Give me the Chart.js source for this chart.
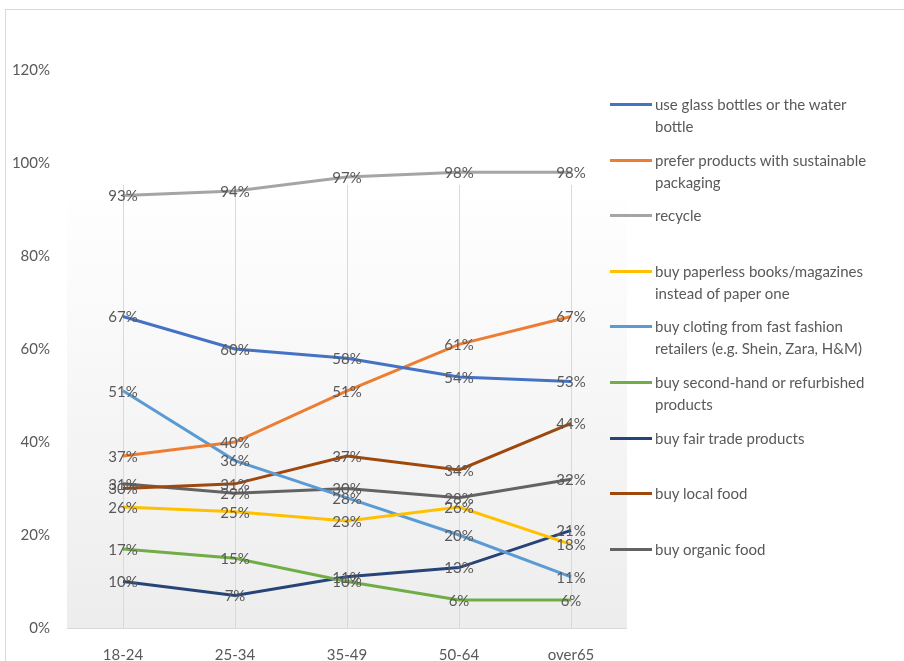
<!DOCTYPE html>
<html>
<head>
<meta charset="utf-8">
<script src="https://cdn.jsdelivr.net/npm/chart.js@4.4.1/dist/chart.umd.min.js"></script>
<style>
  body { margin: 0; background: #fff; font-family: Lato, "Noto Sans", sans-serif; }
  #wrap { position: relative; width: 904px; height: 661px; overflow: hidden; }
  #frame { position: absolute; left: 5px; top: 9px; right: -2px; bottom: -2px; border-left: 1px solid #d9d9d9; border-top: 1px solid #d9d9d9; }
  #myChart { position: absolute; left: 0; top: 0; }
  #legend { position: absolute; left: 610px; top: 93px; width: 290px; }
  .item { position: relative; height: 55.6px; }
  .item .swatch { position: absolute; left: 0; top: 10px; width: 42px; height: 3px; }
  .item .txt { position: absolute; left: 45px; top: 0; font-size: 15px; line-height: 22px; color: #595959; white-space: nowrap; }
</style>
</head>
<body>
<div id="wrap">
  <div id="frame"></div>
  <canvas id="myChart" width="904" height="661"></canvas>
  <div id="legend"></div>
</div>
<script>
// age groups
var ageGroups = ['18-24', '25-34', '35-49', '50-64', 'over65'];
var yTicks = [0, 20, 40, 60, 80, 100, 120];

// series (percent)
var glassBottles = [67, 60, 58, 54, 53];
var sustainablePack = [37, 40, 51, 61, 67];
var recycle = [93, 94, 97, 98, 98];
var paperless = [26, 25, 23, 26, 18];
var fastFashion = [51, 36, 28, 20, 11];
var secondHand = [17, 15, 10, 6, 6];
var fairTrade = [10, 7, 11, 13, 21];
var localFood = [30, 31, 37, 34, 44];
var organicFood = [31, 29, 30, 28, 32];

var seriesNames = [
  ['use glass bottles or the water', 'bottle'],
  ['prefer products with sustainable', 'packaging'],
  ['recycle'],
  ['buy paperless books/magazines', 'instead of paper one'],
  ['buy cloting from fast fashion', 'retailers (e.g. Shein, Zara, H&M)'],
  ['buy second-hand or refurbished', 'products'],
  ['buy fair trade products'],
  ['buy local food'],
  ['buy organic food']
];
var seriesData = [glassBottles, sustainablePack, recycle, paperless, fastFashion, secondHand, fairTrade, localFood, organicFood];
var seriesColors = ['#4472C4', '#ED7D31', '#A5A5A5', '#FFC000', '#5B9BD5', '#70AD47', '#264478', '#9E480E', '#636363'];

var datasets = [];
for (var i = 0; i < seriesData.length; i++) {
  datasets.push({
    label: seriesNames[i].join(' '),
    data: seriesData[i],
    borderColor: seriesColors[i],
    backgroundColor: seriesColors[i],
    borderWidth: 3,
    pointRadius: 0,
    tension: 0
  });
}

// plot background, gridlines and baseline
var plotBack = {
  id: 'plotBack',
  beforeDatasetsDraw: function(chart) {
    var c = chart.ctx, a = chart.chartArea;
    var xs = chart.scales.x, ys = chart.scales.y;
    var top = ys.getPixelForValue(95.3);
    var g = c.createLinearGradient(0, top, 0, a.bottom);
    g.addColorStop(0, '#ffffff');
    g.addColorStop(1, '#ededed');
    c.save();
    c.fillStyle = g;
    c.fillRect(a.left, top, a.right - a.left, a.bottom - top);
    c.strokeStyle = '#d9d9d9';
    c.lineWidth = 1;
    for (var k = 0; k < ageGroups.length; k++) {
      var x = Math.round(xs.getPixelForValue(k)) + 0.5;
      c.beginPath();
      c.moveTo(x, top);
      c.lineTo(x, a.bottom);
      c.stroke();
    }
    c.beginPath();
    c.moveTo(a.left, Math.round(a.bottom) + 0.5);
    c.lineTo(a.right, Math.round(a.bottom) + 0.5);
    c.stroke();
    c.restore();
  },
  afterDatasetsDraw: function(chart) {
    var c = chart.ctx;
    c.save();
    c.font = '15px Lato, "Noto Sans", sans-serif';
    c.fillStyle = '#595959';
    c.textAlign = 'center';
    c.textBaseline = 'middle';
    chart.data.datasets.forEach(function(ds, di) {
      var meta = chart.getDatasetMeta(di);
      meta.data.forEach(function(pt, j) {
        c.fillText(ds.data[j] + '%', pt.x, pt.y + 1);
      });
    });
    c.restore();
  }
};

var ctx = document.getElementById('myChart').getContext('2d');
new Chart(ctx, {
  type: 'line',
  data: { labels: ageGroups, datasets: datasets },
  options: {
    responsive: false,
    animation: false,
    layout: { padding: { left: 0, right: 277, top: 70, bottom: 0 } },
    plugins: { legend: { display: false }, tooltip: { enabled: false } },
    scales: {
      x: {
        offset: true,
        grid: { display: false, drawTicks: false },
        border: { display: false },
        ticks: { color: '#595959', font: { size: 15, family: 'Lato' }, padding: 18 },
        afterFit: function(s) { s.height = 33; }
      },
      y: {
        min: 0,
        max: 120,
        afterBuildTicks: function(s) { s.ticks = yTicks.map(function(v) { return { value: v }; }); },
        grid: { display: false, drawTicks: false },
        border: { display: false },
        ticks: {
          color: '#595959',
          font: { size: 15, family: 'Lato' },
          padding: 17,
          callback: function(v) { return v + '%'; }
        },
        afterFit: function(s) { s.width = 67; }
      }
    }
  },
  plugins: [plotBack]
});

// legend
var lg = document.getElementById('legend');
for (var n = 0; n < seriesNames.length; n++) {
  var item = document.createElement('div');
  item.className = 'item';
  var sw = document.createElement('div');
  sw.className = 'swatch';
  sw.style.background = seriesColors[n];
  var tx = document.createElement('div');
  tx.className = 'txt';
  tx.innerHTML = seriesNames[n].map(function(s) { return s.replace(/&/g, '&amp;'); }).join('<br>');
  item.appendChild(sw);
  item.appendChild(tx);
  lg.appendChild(item);
}
</script>
</body>
</html>
